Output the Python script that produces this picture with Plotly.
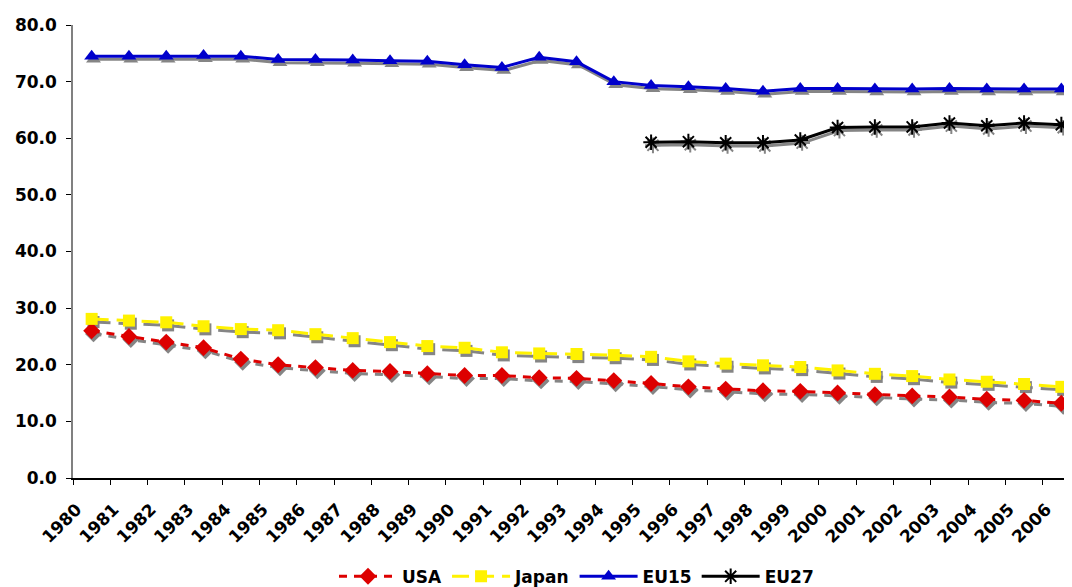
import plotly.graph_objects as go

years = [str(y) for y in range(1980, 2007)]

usa = [26.0, 25.0, 24.0, 23.0, 21.0, 20.0, 19.5, 19.0, 18.8, 18.4,
       18.1, 18.1, 17.7, 17.6, 17.2, 16.7, 16.1, 15.7, 15.4, 15.3,
       15.0, 14.7, 14.5, 14.3, 13.9, 13.7, 13.2]
japan = [28.1, 27.8, 27.5, 26.8, 26.3, 26.1, 25.4, 24.7, 24.0, 23.3,
         23.0, 22.2, 22.0, 21.9, 21.7, 21.4, 20.6, 20.2, 19.9, 19.6,
         19.0, 18.4, 18.0, 17.4, 17.0, 16.6, 16.1]
eu15 = [74.5, 74.5, 74.5, 74.6, 74.5, 73.9, 73.9, 73.8, 73.7, 73.6,
        73.0, 72.5, 74.3, 73.5, 70.0, 69.3, 69.1, 68.8, 68.3, 68.8,
        68.8, 68.7, 68.7, 68.8, 68.7, 68.7, 68.7]
eu27_years = [str(y) for y in range(1995, 2007)]
eu27 = [59.3, 59.4, 59.2, 59.2, 59.7, 61.9, 62.0, 62.0, 62.7, 62.2, 62.7, 62.4]

series = [
    dict(name="USA", y=usa, years=years, color="#DD0000", dash="8px,7px",
         symbol="diamond", size=13),
    dict(name="Japan", y=japan, years=years, color="#FFF200", dash="17px,8px",
         symbol="square", size=12),
    dict(name="EU15", y=eu15, years=years, color="#0000CC", dash="solid",
         symbol="triangle-up", size=13),
    dict(name="EU27", y=eu27, years=eu27_years, color="#000000", dash="solid",
         symbol="asterisk-open", size=13),
]

idx = {y: i for i, y in enumerate(years)}
SHADOW_DX = 0.05
SHADOW_DY = 0.55

fig = go.Figure()

# shadows first
for s in series:
    xs = [idx[y] + SHADOW_DX for y in s["years"]]
    ys = [v - SHADOW_DY for v in s["y"]]
    mk = dict(symbol=s["symbol"], size=s["size"], color="#858585")
    if s["symbol"] == "asterisk-open":
        mk["line"] = dict(color="#858585", width=2)
    fig.add_trace(go.Scatter(
        x=xs, y=ys, mode="lines+markers", showlegend=False, hoverinfo="skip",
        line=dict(color="#858585", width=3, dash=s["dash"]), marker=mk,
    ))

for s in series:
    xs = [idx[y] for y in s["years"]]
    mk = dict(symbol=s["symbol"], size=s["size"], color=s["color"])
    if s["symbol"] == "asterisk-open":
        mk["line"] = dict(color=s["color"], width=2)
    fig.add_trace(go.Scatter(
        x=xs, y=s["y"], name=s["name"], mode="lines+markers",
        line=dict(color=s["color"], width=3, dash=s["dash"]), marker=mk,
    ))

font_bold = dict(family="DejaVu Sans", size=17, color="black", weight="bold")

fig.update_layout(
    width=1072, height=587,
    margin=dict(l=65, r=0, t=17, b=117, autoexpand=False),
    paper_bgcolor="white", plot_bgcolor="white",
    showlegend=True,
    legend=dict(orientation="h", x=0.5, xanchor="center", y=-0.218,
                yanchor="middle", font=font_bold, traceorder="normal",
                itemwidth=58),
    xaxis=dict(
        type="linear", range=[-0.5, 26.5], automargin=False,
        tickmode="array", tickvals=list(range(len(years))), ticktext=years,
        ticks="", tickangle=-45,
        ticklabelshift=-15, ticklabelstandoff=13,
        tickfont=dict(family="DejaVu Sans", size=17, color="black", weight="bold"),
        showline=True, linecolor="black", linewidth=1.5,
        showgrid=False, zeroline=False,
        minor=dict(tickmode="array",
                   tickvals=[i - 0.5 for i in range(len(years) + 1)],
                   ticks="outside", ticklen=5, tickcolor="black", tickwidth=1,
                   showgrid=False),
    ),
    yaxis=dict(
        range=[0, 80], dtick=10, tickformat=".1f", automargin=False,
        ticks="outside", ticklen=5, tickcolor="black",
        tickfont=font_bold, ticklabelstandoff=6,
        showline=True, linecolor="#808080", linewidth=1.5,
        showgrid=False, zeroline=False,
    ),
)

fig.write_html("out.html")
